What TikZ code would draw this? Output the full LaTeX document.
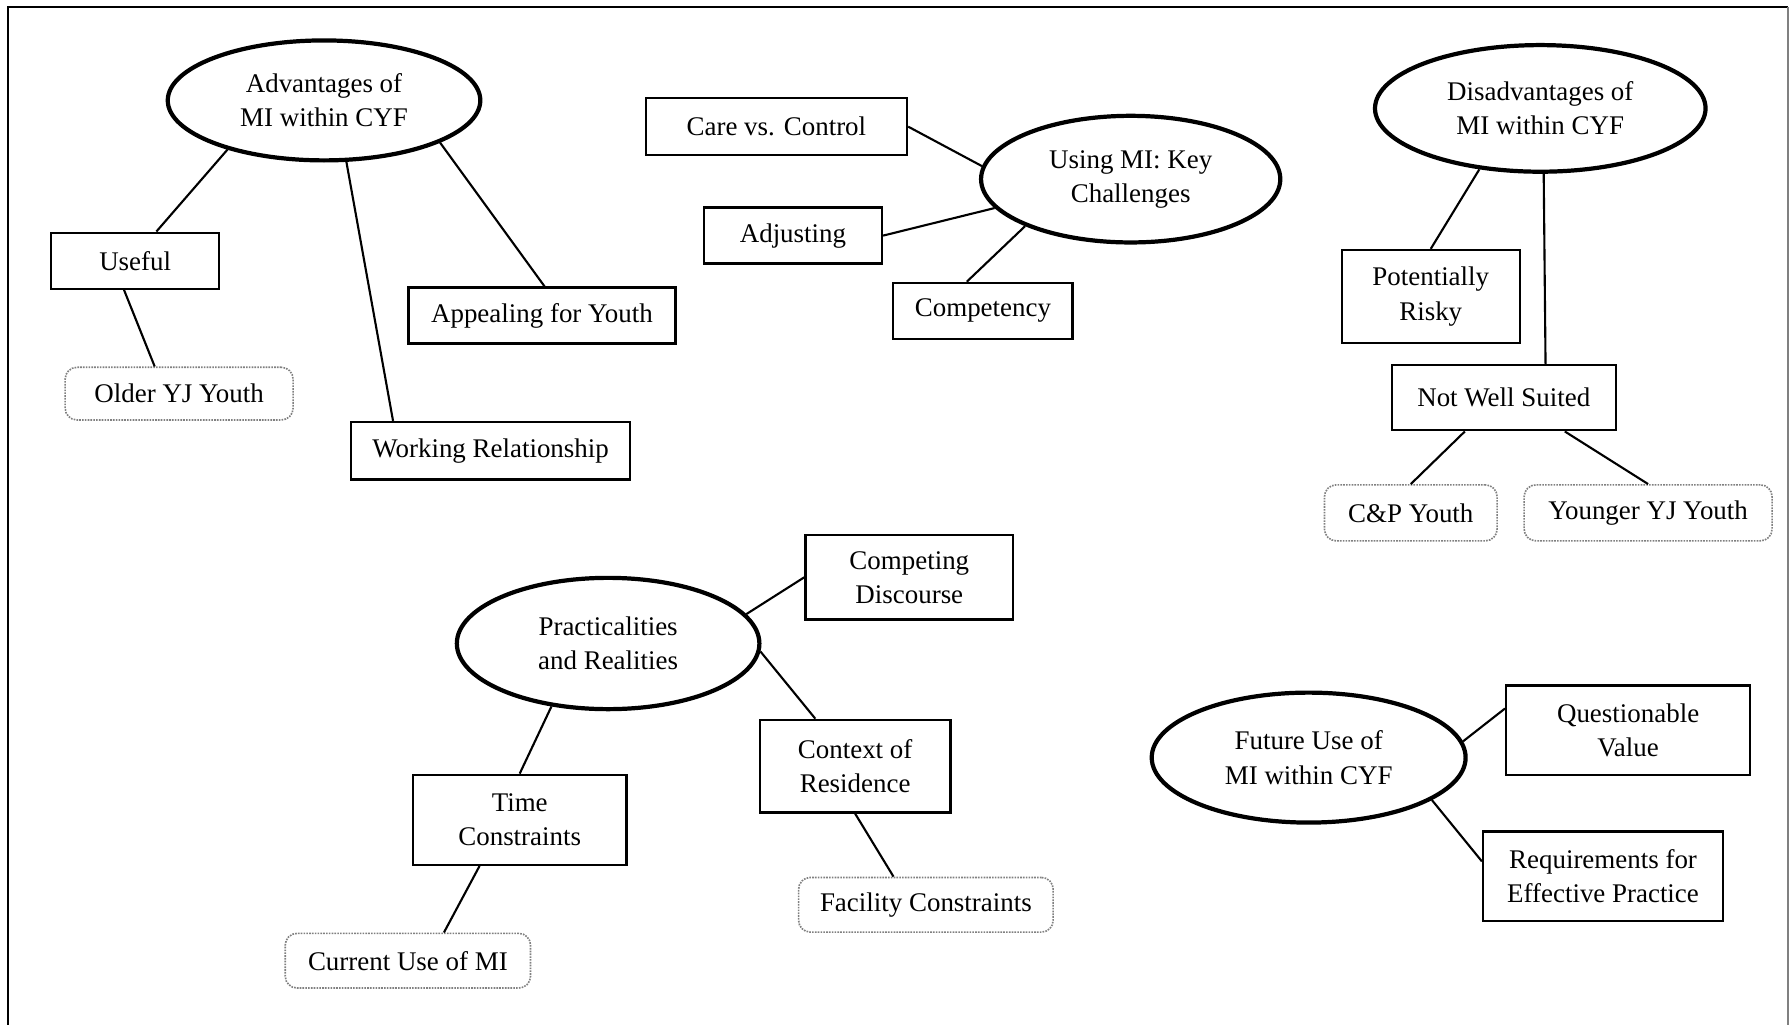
\documentclass[tikz,border=0pt]{standalone}
\usepackage{fontspec}
\setmainfont{Liberation Serif}
\usetikzlibrary{shapes.geometric}
\tikzset{
  topic/.style = {draw, ellipse, line width=1.8pt, align=center, inner sep=0pt,
    font=\fontsize{11.5}{14.6}\selectfont},
  theme/.style = {draw, rectangle, line width=1pt, align=center, inner sep=0pt,
    font=\fontsize{11.5}{14.6}\selectfont},
  subtheme/.style = {draw=gray, dash pattern=on 0.7pt off 0.5pt, rounded corners=5pt,
    line width=0.7pt, align=center, inner sep=0pt, font=\fontsize{11.5}{14.6}\selectfont},
  link/.style = {line width=0.9pt}
}
\begin{document}
\begin{tikzpicture}[x=0.01712cm, y=-0.01712cm]
    \useasboundingbox (0, 0) rectangle (1568, 898);
    \draw [line width=1pt] (7, 898) -- (7, 6) -- (1567, 6);
    \draw [gray, line width=0.6pt] (1567, 6) -- (1567, 898);

    % main themes
    \node [topic, minimum width=4.69cm, minimum height=1.80cm] (adv) at (284, 88) {Advantages of\\MI within CYF};
    \node [topic, minimum width=4.49cm, minimum height=1.90cm] (key) at (991, 157) {Using MI: Key\\Challenges};
    \node [topic, minimum width=4.96cm, minimum height=1.90cm] (dis) at (1350, 95) {Disadvantages of\\MI within CYF};
    \node [topic, minimum width=4.54cm, minimum height=1.97cm] (prac) at (533, 564) {Practicalities\\and Realities};
    \node [topic, minimum width=4.71cm, minimum height=1.95cm] (fut) at (1147, 664) {Future Use of\\MI within CYF};

    % advantages
    \node [theme, minimum width=2.52cm, minimum height=0.84cm] (useful) at (118.5, 228.5) {Useful};
    \node [theme, minimum width=4.01cm, minimum height=0.84cm] (appeal) at (475, 276.5) {Appealing for Youth};
    \node [theme, minimum width=4.18cm, minimum height=0.86cm] (work) at (430, 395) {Working Relationship};
    \node [subtheme, minimum width=3.42cm, minimum height=0.79cm] (older) at (157, 345) {Older YJ Youth};

    % key challenges
    \node [theme, minimum width=3.92cm, minimum height=0.86cm] (care) at (680.5, 111) {Care vs. Control};
    \node [theme, minimum width=2.67cm, minimum height=0.84cm] (adjust) at (695, 206.5) {Adjusting};
    \node [theme, minimum width=2.69cm, minimum height=0.84cm] (compet) at (861.5, 272.5) {Competency};

    % disadvantages
    \node [theme, minimum width=2.67cm, minimum height=1.40cm] (risky) at (1254, 260) {Potentially\\Risky};
    \node [theme, minimum width=3.36cm, minimum height=0.98cm] (notwell) at (1318, 348.5) {Not Well Suited};
    \node [subtheme, minimum width=2.59cm, minimum height=0.84cm] (cp) at (1236.5, 449.5) {C\&P Youth};
    \node [subtheme, minimum width=3.72cm, minimum height=0.84cm] (younger) at (1444.5, 449.5) {Younger YJ Youth};

    % practicalities
    \node [theme, minimum width=3.12cm, minimum height=1.27cm] (discourse) at (797, 506) {Competing\\Discourse};
    \node [theme, minimum width=2.86cm, minimum height=1.39cm] (context) at (749.5, 671.5) {Context of\\Residence};
    \node [theme, minimum width=3.20cm, minimum height=1.35cm] (time) at (455.5, 718.5) {Time\\Constraints};
    \node [subtheme, minimum width=3.82cm, minimum height=0.82cm] (facility) at (811.5, 793) {Facility Constraints};
    \node [subtheme, minimum width=3.68cm, minimum height=0.82cm] (current) at (357.5, 842) {Current Use of MI};

    % future use
    \node [theme, minimum width=3.66cm, minimum height=1.34cm] (question) at (1427, 640) {Questionable\\Value};
    \node [theme, minimum width=3.60cm, minimum height=1.34cm] (require) at (1405, 768) {Requirements for\\Effective Practice};

    \draw [link] (adv.207) -- (useful.54);
    \draw [link] (adv.290) -- (work.163);
    \draw [link] (adv.340) -- (appeal.85);
    \draw [link] (useful.249) -- (older.132);

    \draw [link] (key.175) -- (care.east);
    \draw [link] (key.192) -- (adjust.east);
    \draw [link] (key.204) -- (compet.119);

    \draw [link] (dis.225) -- (risky.north);
    \draw [link] (dis.273) -- (notwell.39);
    \draw [link] (notwell.221) -- (cp.north);
    \draw [link] (notwell.331) -- (younger.north);

    \draw [link] (prac.12) -- (discourse.west);
    \draw [link] (prac.357) -- (context.130);
    \draw [link] (prac.228) -- (time.north);
    \draw [link] (time.229) -- (current.38);
    \draw [link] (context.south) -- (facility.139);

    \draw [link] (fut.6) -- (question.170);
    \draw [link] (fut.341) -- (require.173);
  \end{tikzpicture}
\end{document}
